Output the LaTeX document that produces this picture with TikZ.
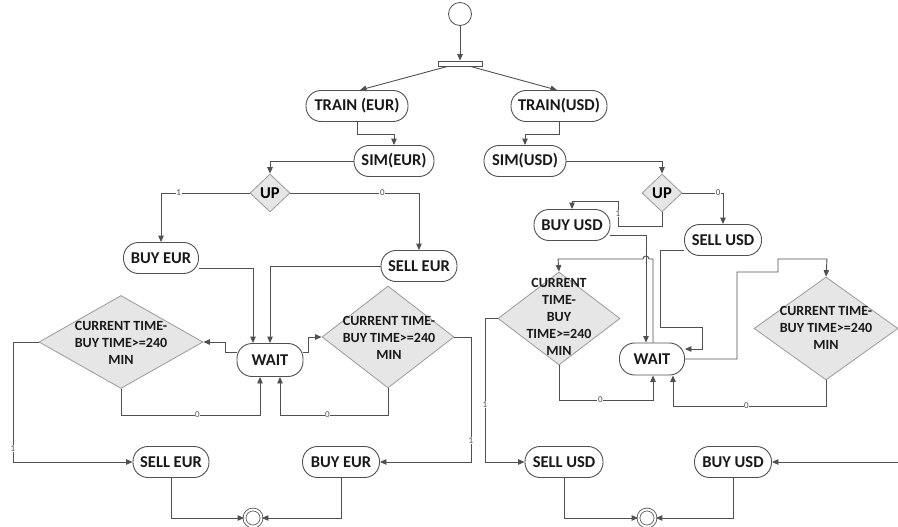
\documentclass[tikz,border=0pt]{standalone}
\usepackage{fontspec}
\setmainfont{Carlito}
\usetikzlibrary{arrows.meta,shapes.geometric}
\definecolor{ln}{HTML}{505050}
\definecolor{dfill}{HTML}{E6E6E6}
\definecolor{dline}{HTML}{9A9A9A}
\tikzset{
  rbox/.style={rectangle,rounded corners=15pt,draw=ln,line width=0.9pt,fill=white,
    minimum height=31pt,inner sep=0pt,font=\bfseries\fontsize{16.5}{18}\selectfont,text=black!90},
  dia/.style={diamond,draw=dline,line width=0.8pt,fill=dfill,inner sep=0pt},
  dtext/.style={align=center,font=\bfseries\fontsize{14}{17}\selectfont,text=black!90,inner sep=0pt},
  arr/.style={draw=ln,line width=0.9pt,-{Triangle[length=6.5pt,width=5.5pt]}},
  lab/.style={font=\fontsize{9}{9}\selectfont,fill=white,inner sep=0.6pt,text=black!70},
  endc/.style={circle,draw=ln,line width=0.8pt,double=white,double distance=2pt,minimum size=17pt,inner sep=0pt,fill=white},
}
\begin{document}
\begin{tikzpicture}[x=1pt,y=-1pt]
\useasboundingbox (0,0) rectangle (898,527);
% top
\node[circle,draw=ln,line width=0.8pt,minimum size=23pt,inner sep=0pt] (start) at (460,14) {};
\node[rectangle,draw=ln,line width=0.8pt,minimum width=44pt,minimum height=5pt,inner sep=0pt] (fork) at (460,63.5) {};
\node[rbox,minimum width=102pt] (trE) at (357,106) {TRAIN (EUR)};
\node[rbox,minimum width=96pt] (trU) at (559,106) {TRAIN(USD)};
\node[rbox,minimum width=80pt] (simE) at (394,161) {SIM(EUR)};
\node[rbox,minimum width=82pt] (simU) at (525,161) {SIM(USD)};
% EUR side
\node[dia,minimum width=40pt,minimum height=38pt,font=\bfseries\fontsize{16.5}{18}\selectfont] (upE) at (270,193) {UP};
\node[rbox,minimum width=75pt] (buyE) at (161,258) {BUY EUR};
\node[rbox,minimum width=76pt] (sellE) at (419,266) {SELL EUR};
\node[rbox,minimum width=66pt,minimum height=33pt] (wE) at (270,360) {WAIT};
\node[dia,minimum width=164pt,minimum height=93pt] (dL) at (121,342) {};
\node[dtext] (dLt) at (121,343) {CURRENT TIME-\\BUY TIME>=240\\MIN};
\node[dia,minimum width=132pt,minimum height=102pt] (dR) at (388,337) {};
\node[dtext] (dRt) at (389,338) {CURRENT TIME-\\BUY TIME>=240\\MIN};
\node[rbox,minimum width=76pt] (sellE2) at (171,462) {SELL EUR};
\node[rbox,minimum width=77pt] (buyE2) at (341,462) {BUY EUR};
\node[endc] (endE) at (253,518) {};
% USD side
\node[dia,minimum width=40pt,minimum height=38pt,font=\bfseries\fontsize{16.5}{18}\selectfont] (upU) at (662,193) {UP};
\node[rbox,minimum width=76pt] (buyU) at (572,225) {BUY USD};
\node[rbox,minimum width=77pt] (sellU) at (723,240) {SELL USD};
\node[rbox,minimum width=65pt,minimum height=32pt] (wU) at (652,359) {WAIT};
\node[dia,minimum width=122pt,minimum height=93pt] (dM) at (559,318.5) {};
\node[dtext] (dMt) at (559,317) {CURRENT\\TIME-\\BUY\\TIME>=240\\MIN};
\node[dia,minimum width=144pt,minimum height=103pt] (dRR) at (826,328.5) {};
\node[dtext] (dRRt) at (826,328) {CURRENT TIME-\\BUY TIME>=240\\MIN};
\node[rbox,minimum width=78pt] (sellU2) at (564,462) {SELL USD};
\node[rbox,minimum width=77pt] (buyU2) at (733,462) {BUY USD};
\node[endc] (endU) at (647,518) {};
\coordinate (rEdge) at (898,462);
% connectors top
\draw[arr] (start) -- (fork);
\draw[arr] ([xshift=10pt]fork.south west) -- ([xshift=3pt]trE.north);
\draw[arr] ([xshift=-12pt]fork.south east) -- ([xshift=-2pt]trU.north);
\draw[arr] (trE.south) -- (357,134) -| (simE.north);
\draw[arr] (trU.south) -- (559,134) -| (simU.north);
% EUR connectors
\draw[arr] (simE.west) -| (upE.north);
\draw[arr] (upE.west) -- node[lab,pos=0.8]{1} (upE.west -| buyE.north) -- (buyE.north);
\draw[arr] (upE.east) -- node[lab,pos=0.715]{0} (upE.east -| sellE.north) -- (sellE.north);
\draw[arr] ([yshift=-10pt]buyE.east) -| ([xshift=-17pt]wE.north);
\draw[arr] (sellE.west) -| (wE.north);
\draw[arr] ([yshift=8pt]wE.west) -- (225,352) -- (225,342) -- (dL.east);
\draw[arr] ([yshift=8pt]wE.east) -- (308,352) -- (308,337) -- (dR.west);
\draw[arr] (dL.south) -- (121,415) -- node[lab,pos=0.55]{0} (260,415) -- ([xshift=-10pt]wE.south);
\draw[arr] (dR.south) -- (388,415) -- node[lab,pos=0.56]{0} (280,415) -- ([xshift=10pt]wE.south);
\draw[arr] (dR.east) -- (471,337) -- node[lab,pos=0.83]{1} (471,462) -- (buyE2.east);
\draw[arr] (dL.west) -- (13,342) -- node[lab,pos=0.89]{1} (13,462) -- (sellE2.west);
\draw[arr] (sellE2.south) |- (endE.west);
\draw[arr] (buyE2.south) |- (endE.east);
% USD connectors
\draw[arr] (simU.east) -| (upU.north);
\draw[arr] (upU.east) -- node[lab,pos=0.88]{0} (723,193) -- (sellU.north);
\draw[arr] (upU.south) -- (662,226) -- (618,226) -- node[lab,pos=0.5]{1} (618,201) -- (572,201) -- (buyU.north);
\draw[arr] ([yshift=-10pt]buyU.east) -- (646,235) -- ([xshift=-6pt]wU.north);
\draw[arr] ([xshift=1pt]wU.north) -- (653,259) -- (649,259) arc[start angle=0,end angle=180,radius=3pt] -- (558,259) -- (dM.north);
\draw[arr] (dM.west) -- (485,318.5) -- node[lab,pos=0.6]{1} (485,462) -- (sellU2.west);
\draw[arr] (dM.south) -- (559,400) -- node[lab,pos=0.44]{0} (653,400) -- ([xshift=1pt]wU.south);
\draw[arr] ([yshift=-10pt]sellU.west) -- (660,250) -- (660,327) -- (702,327) -- (702,349) -- ([yshift=10pt]wU.east);
\draw[arr] (wU.east) -- (737,359) -- (737,272) -- (778,272) -- (778,259) -- (827,259) -- (dRR.north);
\draw[arr] (dRR.south) -- (826,406) -- node[lab,pos=0.52]{0} (673,406) -- ([xshift=21pt]wU.south);
\draw[arr] (rEdge) -- (buyU2.east);
\draw[arr] (sellU2.south) |- (endU.west);
\draw[arr] (buyU2.south) |- (endU.east);
\end{tikzpicture}
\end{document}
